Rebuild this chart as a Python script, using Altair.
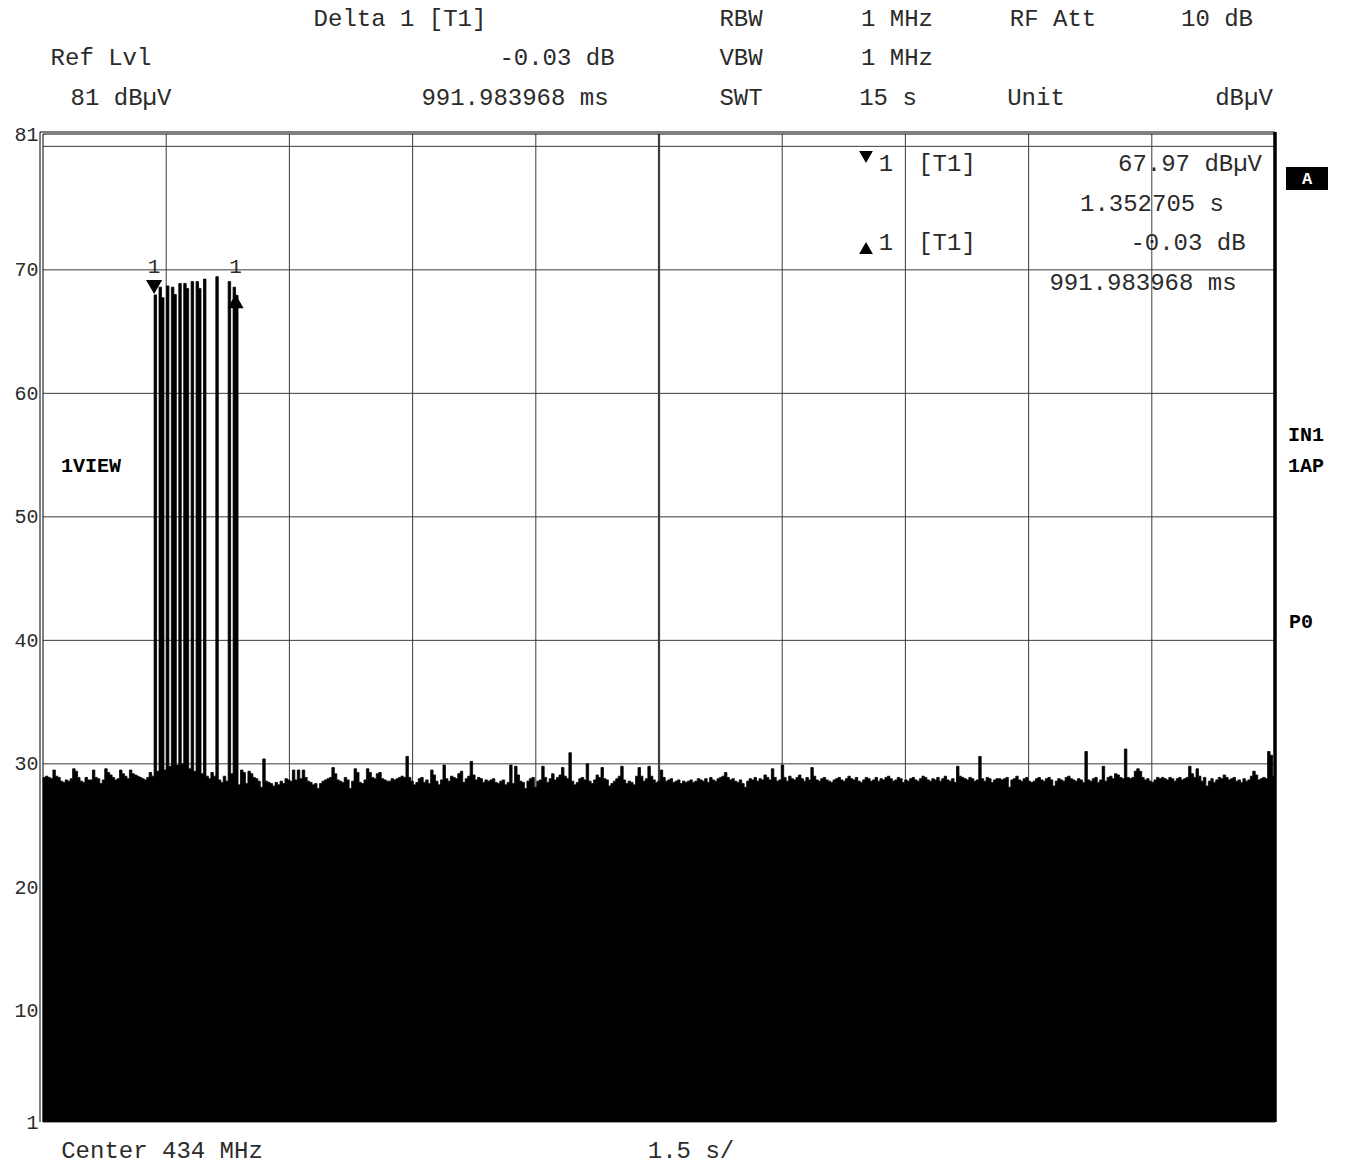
import altair as alt
import pandas as pd

# ---------------- data ----------------
SWEEP_TIME_S = 15.0
# trace level (dBuV), one value per sweep point (15 s sweep)
level_dbuv = [
    28.9, 29.0, 28.9, 28.8, 29.5, 29.0, 28.9, 28.6, 28.5, 28.7, 28.6, 28.8, 29.6, 29.4, 28.9, 28.6, 28.5, 28.9, 28.7, 28.7,
    29.5, 28.9, 28.8, 28.4, 28.7, 29.6, 29.3, 29.1, 28.9, 28.7, 28.8, 29.5, 29.2, 29.0, 28.8, 29.5, 29.2, 29.1, 29.0, 28.9,
    28.8, 28.7, 28.9, 29.3, 29.0, 67.97, 29.4, 68.6, 67.75, 29.5, 68.7, 29.8, 68.6, 68.0, 29.9, 68.9, 30.0, 68.9, 68.5, 29.6,
    69.05, 29.4, 69.05, 68.5, 29.2, 69.25, 29.0, 28.8, 29.3, 29.0, 69.45, 28.7, 28.5, 29.0, 28.6, 69.05, 29.2, 68.6, 67.94, 28.3,
    29.5, 29.3, 28.4, 29.4, 29.2, 28.9, 28.8, 28.6, 28.1, 30.4, 28.6, 28.5, 28.4, 28.2, 28.5, 28.3, 28.6, 28.4, 28.8, 28.7,
    28.6, 29.5, 28.7, 29.5, 28.8, 29.5, 28.9, 28.6, 28.5, 28.3, 28.4, 28.0, 28.4, 28.6, 28.7, 28.8, 28.9, 29.7, 29.2, 28.7,
    28.6, 28.5, 28.9, 28.7, 28.0, 28.6, 29.6, 29.3, 28.5, 28.4, 28.7, 29.6, 29.3, 28.9, 28.8, 29.2, 29.3, 28.8, 28.7, 28.6,
    28.6, 28.8, 28.7, 28.8, 28.9, 29.0, 28.9, 30.6, 28.9, 28.6, 28.3, 28.5, 28.8, 28.9, 28.5, 28.7, 28.4, 29.5, 29.1, 28.6,
    28.3, 28.7, 29.9, 28.8, 28.6, 29.0, 28.9, 28.8, 29.2, 29.4, 28.5, 28.8, 29.0, 30.2, 29.1, 28.7, 28.9, 28.8, 28.5, 28.7,
    28.6, 28.7, 28.8, 28.5, 28.4, 28.6, 28.7, 28.3, 28.5, 29.9, 28.4, 29.8, 29.1, 28.6, 28.5, 28.0, 28.6, 28.8, 28.9, 28.1,
    28.6, 28.7, 29.8, 28.9, 28.5, 28.8, 29.2, 28.7, 28.9, 29.1, 29.7, 29.0, 28.8, 30.9, 28.6, 28.3, 28.5, 28.8, 28.9, 28.7,
    30.0, 28.6, 28.4, 28.7, 29.1, 28.9, 29.7, 28.8, 28.7, 28.2, 28.4, 28.6, 28.8, 29.0, 29.8, 28.7, 28.4, 28.6, 28.5, 28.3,
    29.0, 29.7, 29.0, 28.6, 28.8, 29.8, 29.0, 28.7, 28.5, 28.6, 29.5, 28.9, 28.6, 28.7, 28.8, 28.5, 28.6, 28.7, 28.4, 28.6,
    28.5, 28.6, 28.7, 28.5, 28.6, 28.8, 28.7, 28.6, 28.8, 28.5, 28.9, 28.7, 28.6, 28.8, 28.9, 29.0, 29.3, 28.9, 28.7, 28.8,
    28.6, 28.5, 28.7, 28.4, 28.1, 28.6, 28.8, 28.7, 28.9, 28.6, 28.8, 28.7, 29.1, 28.9, 28.7, 29.6, 28.9, 28.6, 28.7, 29.9,
    28.9, 28.6, 29.0, 28.8, 28.7, 28.9, 29.1, 28.8, 28.6, 28.9, 28.7, 29.7, 29.0, 28.7, 28.6, 28.8, 28.9, 28.7, 28.6, 28.5,
    28.7, 28.8, 28.9, 28.7, 28.6, 28.8, 29.0, 28.8, 28.7, 28.9, 28.6, 28.5, 28.7, 28.9, 28.8, 28.6, 28.7, 28.9, 28.6, 28.8,
    28.7, 28.9, 29.0, 28.8, 28.6, 28.7, 28.9, 28.8, 28.5, 28.7, 28.6, 28.8, 28.9, 28.7, 28.6, 28.8, 29.0, 28.9, 28.7, 28.6,
    28.8, 28.7, 28.9, 28.6, 28.8, 29.0, 28.7, 28.6, 28.8, 28.5, 29.8, 29.0, 28.9, 28.8, 28.7, 28.9, 28.8, 28.6, 28.7, 30.6,
    28.8, 28.6, 28.9, 28.8, 28.5, 28.7, 28.8, 28.8, 28.7, 28.8, 28.9, 28.1, 28.7, 28.8, 29.0, 28.7, 28.6, 28.8, 28.9, 28.6,
    28.5, 28.6, 28.8, 28.9, 28.7, 28.6, 28.8, 28.9, 28.7, 28.2, 28.6, 28.8, 28.7, 28.6, 28.9, 29.0, 28.8, 28.7, 28.6, 28.8,
    28.7, 28.5, 31.0, 28.7, 28.6, 28.8, 28.9, 28.5, 28.7, 29.8, 28.6, 28.9, 29.0, 28.8, 29.2, 29.1, 28.9, 28.8, 31.2, 28.9,
    28.8, 28.9, 29.4, 29.6, 29.4, 28.9, 28.7, 28.8, 28.6, 28.5, 28.7, 28.9, 28.8, 28.9, 28.8, 28.7, 28.9, 28.8, 28.6, 28.8,
    28.9, 28.7, 28.8, 28.9, 29.8, 29.2, 28.9, 29.6, 29.0, 28.6, 28.9, 28.2, 28.6, 28.8, 28.5, 28.7, 28.9, 28.8, 29.1, 28.9,
    28.7, 28.8, 28.9, 28.6, 28.7, 28.5, 28.8, 28.6, 28.7, 29.0, 29.4, 29.1, 28.7, 28.8, 28.9, 28.8, 31.0, 30.7, 29.0, 28.9,
]
n_pts = len(level_dbuv)
time_s = [i * SWEEP_TIME_S / (n_pts - 1) for i in range(n_pts)]

MARKER_IDX = 45        # marker 1  (1.352705 s, 67.97 dBuV)
DELTA_IDX = 78         # delta 1   (+991.983968 ms, -0.03 dB)

Y_TICKS = [81, 70, 60, 50, 40, 30, 20, 10, 1]
H_GRID = [10, 20, 30, 40, 50, 60, 70, 80]
V_GRID = [1.5, 3.0, 4.5, 6.0, 9.0, 10.5, 12.0, 13.5]
V_CENTER = [7.5]

HEADER = [
    ["Delta 1 [T1]", "RBW", "1 MHz", "RF Att", "10 dB"],
    ["Ref Lvl", "-0.03 dB", "VBW", "1 MHz"],
    ["81 dBµV", "991.983968 ms", "SWT", "15 s", "Unit", "dBµV"],
]
MARKER_BOX = [
    ["1", "[T1]", "67.97 dBµV"],
    ["1.352705 s"],
    ["1", "[T1]", "-0.03 dB"],
    ["991.983968 ms"],
]
SIDE = ["A", "IN1", "1AP", "P0", "1VIEW"]
FOOTER = ["Center 434 MHz", "1.5 s/"]

# ---------------- layout ----------------
L, T, W, H = 43, 134, 1232, 988
MONO = "Liberation Mono"
INK = "#2b2b2b"

trace = pd.DataFrame({"t": time_s, "v": level_dbuv})
xs = alt.Scale(domain=[0, SWEEP_TIME_S], nice=False, zero=False)
ys = alt.Scale(domain=[1, 81], nice=False, zero=False)
Y_AXIS = alt.Axis(
    values=Y_TICKS, grid=False, ticks=False, domain=False, title=None,
    labelFont=MONO, labelFontSize=20, labelColor=INK, labelPadding=5)


def txt(s, x, y, size=24, weight="normal", align="center", color=INK):
    return alt.Chart(pd.DataFrame({"s": [s]})).mark_text(
        font=MONO, fontSize=size, fontWeight=weight, align=align,
        baseline="middle", color=color
    ).encode(text="s:N", x=alt.value(x - L), y=alt.value(y - T))


def frame_rule(x=None, y=None, x2=None, y2=None, width=1.0):
    enc = {}
    if x is not None:
        enc["x"] = alt.value(x)
    if y is not None:
        enc["y"] = alt.value(y)
    if x2 is not None:
        enc["x2"] = alt.value(x2)
    if y2 is not None:
        enc["y2"] = alt.value(y2)
    return alt.Chart(pd.DataFrame({"d": [0]})).mark_rule(
        color="black", strokeWidth=width).encode(**enc)


hgrid = alt.Chart(pd.DataFrame({"v": H_GRID})).mark_rule(
    color="#3c3c3c", strokeWidth=1).encode(y=alt.Y("v:Q", scale=ys, axis=Y_AXIS))
vgrid = alt.Chart(pd.DataFrame({"t": V_GRID})).mark_rule(
    color="#3c3c3c", strokeWidth=1).encode(x=alt.X("t:Q", scale=xs, axis=None))
vcenter = alt.Chart(pd.DataFrame({"t": V_CENTER})).mark_rule(
    color="#3c3c3c", strokeWidth=2.2).encode(x=alt.X("t:Q", scale=xs, axis=None))

area = alt.Chart(trace).mark_area(
    interpolate="step-after", color="black", opacity=1,
    stroke="black", strokeWidth=0.8
).encode(
    x=alt.X("t:Q", scale=xs, axis=None),
    y=alt.Y("v:Q", scale=ys, axis=Y_AXIS),
    y2=alt.datum(1),
)

mk_down = alt.Chart(trace.iloc[[MARKER_IDX]]).mark_point(
    shape="triangle-down", filled=True, color="black", opacity=1, size=260, yOffset=-8
).encode(x=alt.X("t:Q", scale=xs, axis=None), y=alt.Y("v:Q", scale=ys, axis=Y_AXIS))
mk_up = alt.Chart(trace.iloc[[DELTA_IDX]]).mark_point(
    shape="triangle-up", filled=True, color="black", opacity=1, size=260, yOffset=6
).encode(x=alt.X("t:Q", scale=xs, axis=None), y=alt.Y("v:Q", scale=ys, axis=Y_AXIS))
mk_lbl = alt.Chart(pd.DataFrame({"t": [time_s[MARKER_IDX], time_s[DELTA_IDX]], "s": ["1", "1"]})).mark_text(
    font=MONO, fontSize=21, color=INK, baseline="middle"
).encode(x=alt.X("t:Q", scale=xs, axis=None), y=alt.value(267 - T), text="s:N")

frame = [
    frame_rule(x=0, y=0, y2=H), frame_rule(x=-3, y=-2, y2=H),
    frame_rule(y=0, x=0, x2=W), frame_rule(y=-2, x=-3, x2=W),
    frame_rule(x=W, y=-2, y2=H, width=3.5),
]

box_tri = [
    alt.Chart(pd.DataFrame({"d": [0]})).mark_point(
        shape="triangle-down", filled=True, color="black", opacity=1, size=190
    ).encode(x=alt.value(866 - L), y=alt.value(157 - T)),
    alt.Chart(pd.DataFrame({"d": [0]})).mark_point(
        shape="triangle-up", filled=True, color="black", opacity=1, size=190
    ).encode(x=alt.value(866 - L), y=alt.value(248 - T)),
]

a_box = alt.Chart(pd.DataFrame({"d": [0]})).mark_rect(color="black").encode(
    x=alt.value(1286 - L), x2=alt.value(1328 - L),
    y=alt.value(167 - T), y2=alt.value(190 - T))

texts = [
    # header row 1
    txt(HEADER[0][0], 400, 19), txt(HEADER[0][1], 741, 19), txt(HEADER[0][2], 897, 19),
    txt(HEADER[0][3], 1053, 19), txt(HEADER[0][4], 1217, 19),
    # header row 2
    txt(HEADER[1][0], 101, 58), txt(HEADER[1][1], 557, 58), txt(HEADER[1][2], 741, 58),
    txt(HEADER[1][3], 897, 58),
    # header row 3
    txt(HEADER[2][0], 121, 98), txt(HEADER[2][1], 515, 98), txt(HEADER[2][2], 741, 98),
    txt(HEADER[2][3], 888, 98), txt(HEADER[2][4], 1036, 98), txt(HEADER[2][5], 1244, 98),
    # marker box
    txt(MARKER_BOX[0][0], 886, 164), txt(MARKER_BOX[0][1], 947, 164), txt(MARKER_BOX[0][2], 1190, 164),
    txt(MARKER_BOX[1][0], 1152, 204),
    txt(MARKER_BOX[2][0], 886, 243), txt(MARKER_BOX[2][1], 947, 243), txt(MARKER_BOX[2][2], 1188, 243),
    txt(MARKER_BOX[3][0], 1143, 283),
    # side labels
    txt(SIDE[0], 1307, 179, size=17, weight="bold", color="white"),
    txt(SIDE[1], 1306, 435, size=20, weight="bold", color="black"),
    txt(SIDE[2], 1306, 466, size=20, weight="bold", color="black"),
    txt(SIDE[3], 1301, 622, size=20, weight="bold", color="black"),
    txt(SIDE[4], 91, 466, size=20, weight="bold", color="black"),
    # footer
    txt(FOOTER[0], 162, 1151), txt(FOOTER[1], 691, 1151),
]

chart = alt.layer(
    hgrid, vgrid, vcenter, area, *frame, mk_down, mk_up, mk_lbl, *box_tri, a_box, *texts
).properties(
    width=W, height=H,
    padding={"left": L, "top": T, "right": 1346 - L - W, "bottom": 1165 - T - H},
    autosize=alt.AutoSizeParams(type="none"),
    background="white",
).configure_view(stroke=None)

chart.save("out.html", embed_options={"renderer": "svg", "actions": False})
